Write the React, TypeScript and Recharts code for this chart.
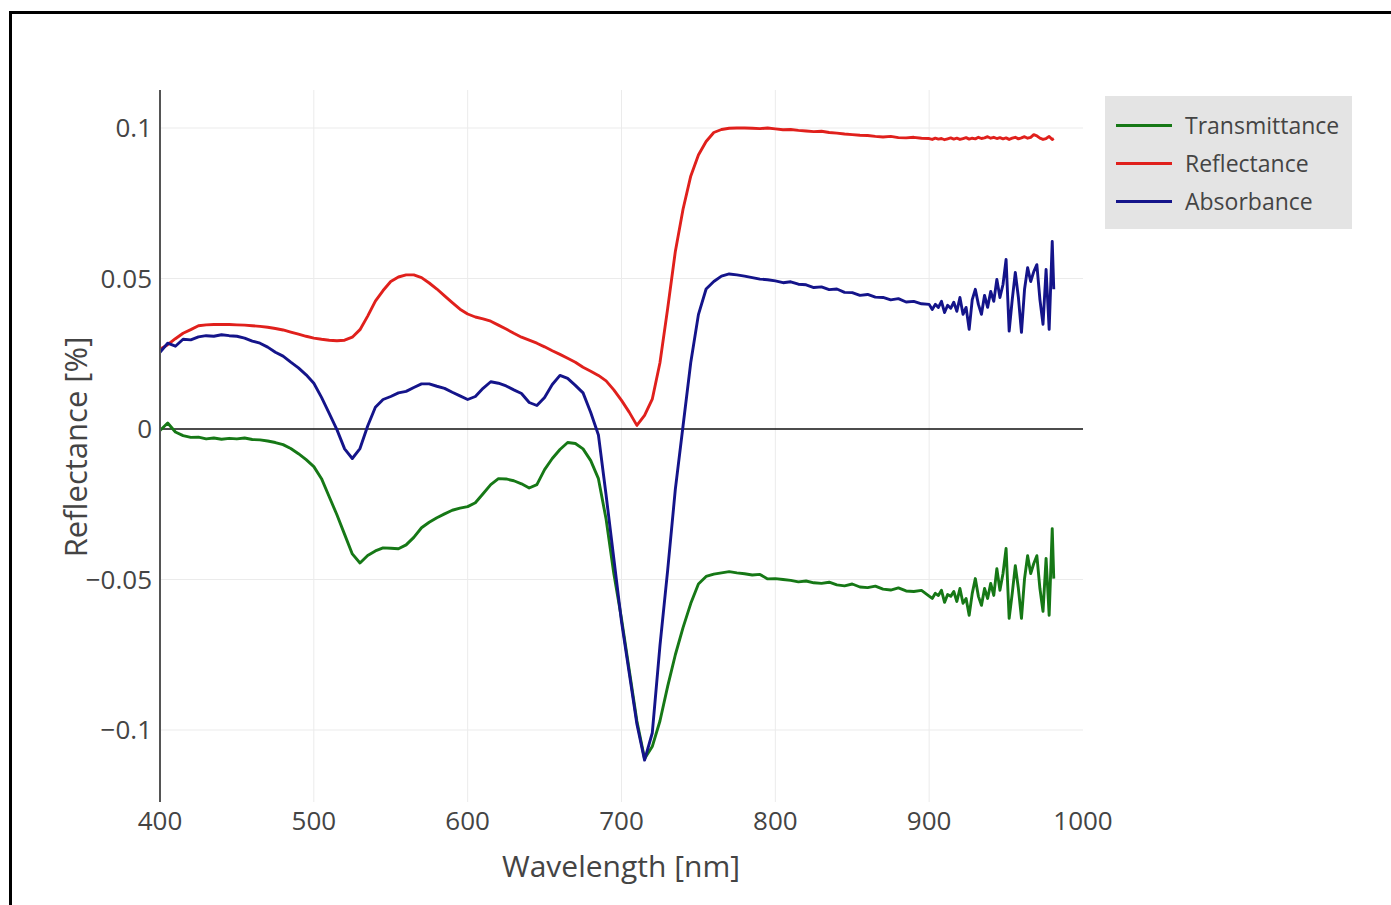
import { LineChart, Line, XAxis, YAxis, CartesianGrid, ReferenceLine } from 'recharts';

// wavelength grid [nm] – 5 nm steps, 2 nm in the noisy tail
const wavelengths = [
  400, 405, 410, 415, 420, 425, 430, 435, 440, 445, 450, 455, 460, 465, 470, 475, 480, 485, 490, 495,
  500, 505, 510, 515, 520, 525, 530, 535, 540, 545, 550, 555, 560, 565, 570, 575, 580, 585, 590, 595,
  600, 605, 610, 615, 620, 625, 630, 635, 640, 645, 650, 655, 660, 665, 670, 675, 680, 685, 690, 695,
  700, 705, 710, 715, 720, 725, 730, 735, 740, 745, 750, 755, 760, 765, 770, 775, 780, 785, 790, 795,
  800, 805, 810, 815, 820, 825, 830, 835, 840, 845, 850, 855, 860, 865, 870, 875, 880, 885, 890, 895,
  900,
  902, 904, 906, 908, 910, 912, 914, 916, 918, 920, 922, 924, 926, 928, 930, 932, 934, 936, 938, 940,
  942, 944, 946, 948, 950, 952, 954, 956, 958, 960, 962, 964, 966, 968, 970, 972, 974, 976, 978, 980,
  981,
];

const transmittance = [
  -0.0005, 0.002, -0.001, -0.0022, -0.0028, -0.0027, -0.0033, -0.003, -0.0034, -0.0031, -0.0033, -0.003, -0.0035, -0.0036, -0.004, -0.0045, -0.0052, -0.0065, -0.0082, -0.0102,
  -0.0125, -0.0165, -0.0225, -0.0285, -0.035, -0.0415, -0.0445, -0.042, -0.0405, -0.0395, -0.0396, -0.0398, -0.0385, -0.036, -0.0328, -0.031, -0.0295, -0.0282, -0.027, -0.0263,
  -0.0258, -0.0245, -0.0215, -0.0185, -0.0165, -0.0166, -0.0172, -0.0182, -0.0196, -0.0185, -0.0135, -0.0098, -0.0068, -0.0045, -0.0048, -0.0066, -0.0105, -0.0165, -0.030, -0.048,
  -0.063, -0.080, -0.097, -0.1095, -0.1055, -0.097, -0.0855, -0.075, -0.066, -0.058, -0.0515, -0.049, -0.0482, -0.0478, -0.0474, -0.0478, -0.0481, -0.0485, -0.0483, -0.0498,
  -0.0497, -0.05, -0.0503, -0.0508, -0.0505, -0.0511, -0.0513, -0.0509, -0.0518, -0.0521, -0.0515, -0.0525, -0.0527, -0.0522, -0.0532, -0.0535, -0.0528, -0.0538, -0.054, -0.0536,
  -0.0555,
  -0.0563, -0.0546, -0.0553, -0.0536, -0.0576, -0.055, -0.0556, -0.054, -0.0573, -0.053, -0.0579, -0.0563, -0.0619, -0.0546, -0.0497, -0.0556, -0.0586, -0.053, -0.0563, -0.0513,
  -0.0553, -0.0464, -0.0536, -0.048, -0.0397, -0.0629, -0.0546, -0.0454, -0.053, -0.0629, -0.0497, -0.0421, -0.048, -0.0447, -0.0421, -0.053, -0.0606, -0.043, -0.0619, -0.0331,
  -0.0497,
];

const reflectance = [
  0.0265, 0.028, 0.030, 0.0318, 0.033, 0.0343, 0.0346, 0.0347, 0.0347, 0.0347, 0.0346, 0.0345, 0.0343, 0.0341, 0.0338, 0.0334, 0.0329, 0.0322, 0.0315, 0.0308,
  0.0302, 0.0298, 0.0295, 0.0293, 0.0295, 0.0305, 0.033, 0.0375, 0.0425, 0.046, 0.049, 0.0505, 0.0512, 0.0512, 0.0503, 0.0485, 0.0465, 0.0442, 0.042, 0.0398,
  0.0382, 0.0372, 0.0366, 0.0358, 0.0345, 0.0332, 0.0318, 0.0305, 0.0295, 0.0285, 0.0273, 0.026, 0.0248, 0.0235, 0.0222, 0.0205, 0.0192, 0.0178, 0.016, 0.013,
  0.0095, 0.0056, 0.0012, 0.0045, 0.0099, 0.022, 0.040, 0.059, 0.073, 0.084, 0.091, 0.0955, 0.0985, 0.0995, 0.0999, 0.1, 0.1, 0.0999, 0.0998, 0.1,
  0.0997, 0.0994, 0.0995, 0.0992, 0.099, 0.0988, 0.0989, 0.0985, 0.0983, 0.098, 0.0978, 0.0976, 0.0975, 0.0972, 0.097, 0.0972, 0.0968, 0.0967, 0.0969, 0.0966,
  0.0965,
  0.0962, 0.0966, 0.0963, 0.0965, 0.0961, 0.0964, 0.0967, 0.0963, 0.0966, 0.0962, 0.0965, 0.0968, 0.0963, 0.0966, 0.0964, 0.0969, 0.0965, 0.0967, 0.0971, 0.0966,
  0.0969, 0.0965, 0.0968, 0.0964, 0.0967, 0.0962, 0.0966, 0.0969, 0.0964, 0.0967, 0.0971, 0.0966, 0.0969, 0.0978, 0.0974, 0.0966, 0.0962, 0.0965, 0.0972, 0.0962,
  0.0965,
];

const absorbance = [
  0.0255, 0.0285, 0.0275, 0.0298, 0.0296, 0.0306, 0.031, 0.0308, 0.0313, 0.031, 0.0308, 0.0302, 0.0292, 0.0285, 0.0272, 0.0255, 0.0242, 0.0222, 0.0203, 0.018,
  0.0152, 0.0105, 0.0052, -0.0002, -0.0066, -0.0098, -0.0065, 0.001, 0.0072, 0.0098, 0.0108, 0.012, 0.0125, 0.0138, 0.015, 0.015, 0.0142, 0.0135, 0.0122, 0.011,
  0.0098, 0.0108, 0.0135, 0.0157, 0.0152, 0.0143, 0.013, 0.0118, 0.0088, 0.0078, 0.0105, 0.0148, 0.0178, 0.0168, 0.0145, 0.012, 0.0055, -0.002, -0.022, -0.043,
  -0.064, -0.081, -0.098, -0.110, -0.101, -0.072, -0.047, -0.020, 0.001, 0.022, 0.038, 0.0465, 0.049, 0.0508, 0.0515, 0.0512, 0.0508, 0.0503, 0.0498, 0.0496,
  0.0492, 0.0486, 0.0489, 0.0481, 0.0479, 0.047, 0.0472, 0.0463, 0.0465, 0.0454, 0.0453, 0.0444, 0.0447, 0.0438, 0.0437, 0.0429, 0.0433, 0.0422, 0.0424, 0.0416,
  0.0414,
  0.0397, 0.0414, 0.0404, 0.0424, 0.0387, 0.0411, 0.0401, 0.0421, 0.0391, 0.0437, 0.0381, 0.0404, 0.0331, 0.043, 0.0464, 0.0414, 0.0381, 0.0444, 0.0404, 0.0457,
  0.0424, 0.0497, 0.0437, 0.048, 0.0563, 0.0325, 0.043, 0.052, 0.0437, 0.0321, 0.0464, 0.0536, 0.049, 0.0523, 0.0546, 0.043, 0.0348, 0.053, 0.0331, 0.0623,
  0.0464,
];

const xTicks = [400, 500, 600, 700, 800, 900, 1000];
const yTicks = [-0.1, -0.05, 0, 0.05, 0.1];

const series = [
  { key: 'transmittance', name: 'Transmittance', color: '#167816' },
  { key: 'reflectance', name: 'Reflectance', color: '#e0201c' },
  { key: 'absorbance', name: 'Absorbance', color: '#14148a' },
];

const data = wavelengths.map((wl, i) => ({
  wl,
  transmittance: transmittance[i],
  reflectance: reflectance[i],
  absorbance: absorbance[i],
}));

const FONT = '"Open Sans", sans-serif';

const fmt = (v: number) => (v < 0 ? '\u2212' + Math.abs(v) : String(v));

export default function App() {
  return (
    <div style={{ position: 'absolute', left: 0, top: 0, width: 1391, height: 905, background: '#fff', overflow: 'hidden' }}>
      <div
        style={{
          position: 'absolute', left: 9, top: 11, right: 0, bottom: 0,
          borderTop: '3px solid #000', borderLeft: '3px solid #000',
        }}
      />
      <LineChart
        width={1391}
        height={905}
        data={data}
        margin={{ top: 90, right: 308, bottom: 43, left: 60 }}
        style={{ position: 'absolute', left: 0, top: 0 }}
      >
        <CartesianGrid
          stroke="#ebebeb"
          strokeWidth={1}
          verticalValues={[500, 600, 700, 800, 900]}
          horizontalValues={[-0.1, -0.05, 0.05, 0.1]}
        />
        <XAxis
          dataKey="wl"
          type="number"
          domain={[400, 1000]}
          ticks={xTicks}
          height={60}
          axisLine={false}
          tickLine={false}
          tickMargin={4}
          tick={{ fill: '#444', fontSize: 26, fontFamily: FONT }}
          label={() => (
            <text x={621} y={877} textAnchor="middle" fill="#444" fontSize={30} fontFamily={FONT}>
              Wavelength [nm]
            </text>
          )}
        />
        <YAxis
          type="number"
          domain={[-0.12392, 0.11262]}
          allowDataOverflow
          ticks={yTicks}
          width={100}
          tickFormatter={fmt}
          axisLine={{ stroke: '#555', strokeWidth: 2 }}
          tickLine={false}
          tick={{ fill: '#444', fontSize: 26, fontFamily: FONT }}
          label={() => (
            <text
              x={75}
              y={447}
              transform="rotate(-90 75 447)"
              textAnchor="middle"
              dominantBaseline="central"
              fill="#444"
              fontSize={31}
              fontFamily={FONT}
            >
              Reflectance [%]
            </text>
          )}
        />
        <ReferenceLine y={0} stroke="#111" strokeWidth={1.5} />
        {series.map((s) => (
          <Line
            key={s.key}
            type="linear"
            dataKey={s.key}
            name={s.name}
            stroke={s.color}
            strokeWidth={2.9}
            strokeLinejoin="round"
            dot={false}
            isAnimationActive={false}
          />
        ))}
      </LineChart>
      <div
        style={{
          position: 'absolute', left: 1105, top: 96, width: 247, height: 133,
          background: '#e4e4e4', fontFamily: FONT, fontSize: 23, color: '#444',
        }}
      >
        {series.map((s, i) => (
          <div key={s.key} style={{ position: 'absolute', left: 0, top: 12 + i * 38, height: 34, display: 'flex', alignItems: 'center' }}>
            <div style={{ marginLeft: 11, width: 56, height: 3, background: s.color }} />
            <span style={{ marginLeft: 13, whiteSpace: 'nowrap' }}>{s.name}</span>
          </div>
        ))}
      </div>
    </div>
  );
}
